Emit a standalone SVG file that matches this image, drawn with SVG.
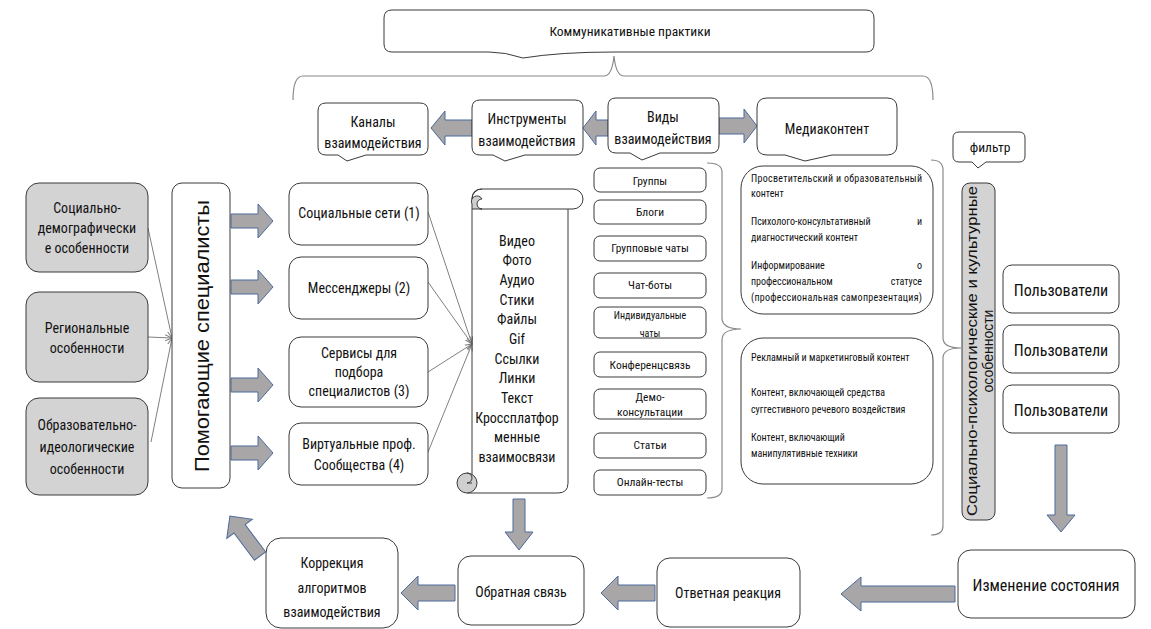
<svg xmlns="http://www.w3.org/2000/svg" width="1151" height="629" viewBox="0 0 1151 629">
<defs>
<style>
text{font-family:"Liberation Sans Narrow","Roboto Condensed",Roboto,sans-serif;fill:#111;dominant-baseline:central;text-anchor:middle}
.box{fill:#fff;stroke:#3a3a3a;stroke-width:1}
.gbox{fill:#d3d3d3;stroke:#3a3a3a;stroke-width:1}
.barr{fill:#a8a6a6;stroke:#4c6a9c;stroke-width:1}
.brace{fill:none;stroke:#8a8a8a;stroke-width:1.2}
.thin{fill:none;stroke:#808080;stroke-width:1}
.f14{font-size:14px}
.f13{font-size:13.5px}
.f11{font-size:11.5px}
.f10{font-size:10px}
.l{text-anchor:start}
.r{text-anchor:end}
</style>
<marker id="ah" markerWidth="8" markerHeight="8" refX="7" refY="4" orient="auto" markerUnits="userSpaceOnUse">
<path d="M0,1 L7,4 L0,7" fill="none" stroke="#808080" stroke-width="1"/>
</marker>
</defs>
<rect width="1151" height="629" fill="#fff"/>

<g id="connectors">
<!-- braces -->
<path class="brace" d="M293,100 Q293,76 303,76 H604 Q612,76 614,56 Q616,76 624,76 H923 Q933,76 933,100"/>
<path class="brace" d="M707,163 Q722,163 722,172 V318 Q722,329 741,329 Q722,329 722,340 V489 Q722,498 707,498"/>
<path class="brace" d="M931,160 Q943,160 943,170 V338 Q943,348 961,348 Q943,348 943,358 V526 Q943,535 931,535"/>
<!-- thin converging arrows left -->
<path class="thin" marker-end="url(#ah)" d="M148,228 L172,338"/>
<path class="thin" marker-end="url(#ah)" d="M148,337 L172,338"/>
<path class="thin" marker-end="url(#ah)" d="M151,442 L172,338"/>
<!-- thin converging arrows to scroll -->
<path class="thin" marker-end="url(#ah)" d="M428,212 L472,344"/>
<path class="thin" marker-end="url(#ah)" d="M428,282 L472,344"/>
<path class="thin" marker-end="url(#ah)" d="M428,372 L472,344"/>
<path class="thin" marker-end="url(#ah)" d="M428,452 L472,344"/>
<!-- block arrows top -->
<path class="barr" d="M472,120 H445 V111 L431,128 L445,145 V136 H472 Z"/>
<path class="barr" d="M608,120 H596 V111 L583,128 L596,145 V136 H608 Z"/>
<path class="barr" d="M719,118 H744 V109 L757,126 L744,143 V134 H719 Z"/>
<!-- block arrows from Помогающие -->
<path class="barr" d="M231,214 H258 V204 L273,221 L258,238 V228 H231 Z"/>
<path class="barr" d="M231,280 H258 V270 L273,287 L258,304 V294 H231 Z"/>
<path class="barr" d="M231,378 H258 V368 L273,385 L258,402 V392 H231 Z"/>
<path class="barr" d="M231,446 H258 V436 L273,453 L258,470 V460 H231 Z"/>
<!-- scroll down arrow -->
<path class="barr" d="M513,499 V532 H505 L519,550 L533,532 H525 V499 Z"/>
<!-- right down arrow -->
<path class="barr" d="M1055,445 V515 H1047 L1061,532 L1075,515 H1067 V445 Z"/>
<!-- bottom arrows -->
<path class="barr" d="M955,586 H861 V577 L841,594 L861,611 V602 H955 Z"/>
<path class="barr" d="M655,585 H618 V576 L601,593 L618,610 V601 H655 Z"/>
<path class="barr" d="M455,585 H418 V576 L401,593 L418,610 V601 H455 Z"/>
<path class="barr" transform="translate(260,556) rotate(-127)" d="M0,-7 H34 V-16 L50,0 L34,16 V7 H0 Z"/>
</g>

<g id="n-kp">
<path class="box" d="M392,10 H866 Q874,10 874,18 V44 Q874,52 866,52 H614 Q560,52 523,58 Q505,52 489,52 H392 Q384,52 384,44 V18 Q384,10 392,10 Z"/>
<text class="f13" x="630" y="31">Коммуникативные практики</text>
</g>

<g id="n-kanaly">
<path class="box" d="M326,103 H420 Q428,103 428,111 V147 Q428,155 420,155 H366 L347,161 L338,155 H326 Q318,155 318,147 V111 Q318,103 326,103 Z"/>
<text class="f14" x="373" y="122">Каналы</text>
<text class="f14" x="373" y="143">взаимодействия</text>
</g>
<g id="n-instr">
<path class="box" d="M480,100 H575 Q583,100 583,108 V147 Q583,155 575,155 H525 L505,161 L493,155 H480 Q472,155 472,147 V108 Q472,100 480,100 Z"/>
<text class="f14" x="527" y="119">Инструменты</text>
<text class="f14" x="527" y="141">взаимодействия</text>
</g>
<g id="n-vidy">
<path class="box" d="M616,98 H711 Q719,98 719,106 V145 Q719,153 711,153 H660 L642,160 L630,153 H616 Q608,153 608,145 V106 Q608,98 616,98 Z"/>
<text class="f14" x="663" y="117">Виды</text>
<text class="f14" x="663" y="139">взаимодействия</text>
</g>
<g id="n-media">
<path class="box" d="M767,98 H887 Q897,98 897,108 V145 Q897,155 887,155 H832 L805,161 L785,155 H767 Q757,155 757,145 V108 Q757,98 767,98 Z"/>
<text class="f14" x="827" y="129">Медиаконтент</text>
</g>

<g id="n-soc-dem">
<rect class="gbox" x="26" y="183" width="122" height="89" rx="13"/>
<text class="f14" x="87" y="208">Социально-</text>
<text class="f14" x="87" y="228">демографически</text>
<text class="f14" x="87" y="248">е особенности</text>
</g>
<g id="n-reg">
<rect class="gbox" x="26" y="292" width="122" height="90" rx="13"/>
<text class="f14" x="87" y="328">Региональные</text>
<text class="f14" x="87" y="348">особенности</text>
</g>
<g id="n-obr">
<rect class="gbox" x="26" y="398" width="122" height="97" rx="13"/>
<text class="f14" x="87" y="425">Образовательно-</text>
<text class="f14" x="87" y="447">идеологические</text>
<text class="f14" x="87" y="469">особенности</text>
</g>

<g id="n-pomog">
<rect class="box" x="172" y="183" width="58" height="305" rx="10"/>
<text x="0" y="0" transform="translate(201,336) rotate(-90)" style="font-family:'Liberation Sans',Arial,sans-serif;font-size:21px" textLength="272" lengthAdjust="spacingAndGlyphs">Помогающие специалисты</text>
</g>

<g id="n-ch1">
<rect class="box" x="289" y="183" width="139" height="62" rx="12"/>
<text class="f14" x="359" y="213">Социальные сети (1)</text>
</g>
<g id="n-ch2">
<rect class="box" x="289" y="257" width="139" height="62" rx="12"/>
<text class="f14" x="359" y="288">Мессенджеры (2)</text>
</g>
<g id="n-ch3">
<rect class="box" x="289" y="337" width="139" height="70" rx="12"/>
<text class="f14" x="359" y="353">Сервисы для</text>
<text class="f14" x="359" y="372">подбора</text>
<text class="f14" x="359" y="391">специалистов (3)</text>
</g>
<g id="n-ch4">
<rect class="box" x="289" y="423" width="139" height="62" rx="12"/>
<text class="f14" x="359" y="444">Виртуальные проф.</text>
<text class="f14" x="359" y="465">Сообщества (4)</text>
</g>

<g id="n-scroll">
<path class="box" d="M472,209 V483 M568,209 V483 Q568,493 558,493 H467"/>
<rect class="box" x="472" y="189" width="111" height="20" rx="10"/>
<path d="M482,199 A5,5 0 1,0 482,209 H472 V204 A5,5 0 0,1 482,199 Z" fill="#cfcfcf" stroke="#3a3a3a"/>
<path d="M472,199 Q472,189 482,189" fill="none" stroke="#3a3a3a"/>
<circle cx="467" cy="483" r="10" fill="#cfcfcf" stroke="#3a3a3a"/>
<path d="M467,473 A5,5 0 0,1 467,483 H472" fill="none" stroke="#3a3a3a"/>
<text class="f14" x="517" y="241">Видео</text>
<text class="f14" x="517" y="260">Фото</text>
<text class="f14" x="517" y="280">Аудио</text>
<text class="f14" x="517" y="300">Стики</text>
<text class="f14" x="517" y="319">Файлы</text>
<text class="f14" x="517" y="339">Gif</text>
<text class="f14" x="517" y="359">Ссылки</text>
<text class="f14" x="517" y="378">Линки</text>
<text class="f14" x="517" y="398">Текст</text>
<text class="f14" x="517" y="418">Кроссплатфор</text>
<text class="f14" x="517" y="437">менные</text>
<text class="f14" x="517" y="457">взаимосвязи</text>
</g>

<g id="n-v1"><rect class="box" x="594" y="168" width="112" height="24" rx="6"/><text class="f11" x="650" y="181">Группы</text></g>
<g id="n-v2"><rect class="box" x="594" y="200" width="112" height="24" rx="6"/><text class="f11" x="650" y="212">Блоги</text></g>
<g id="n-v3"><rect class="box" x="594" y="236" width="112" height="25" rx="6"/><text class="f11" x="650" y="248">Групповые чаты</text></g>
<g id="n-v4"><rect class="box" x="594" y="273" width="112" height="25" rx="6"/><text class="f11" x="650" y="285">Чат-боты</text></g>
<g id="n-v5"><rect class="box" x="594" y="307" width="112" height="31" rx="6"/><text class="f10" x="650" y="315">Индивидуальные</text><text class="f10" x="650" y="333">чаты</text></g>
<g id="n-v6"><rect class="box" x="594" y="352" width="112" height="25" rx="6"/><text class="f11" x="650" y="365">Конференцсвязь</text></g>
<g id="n-v7"><rect class="box" x="594" y="389" width="112" height="30" rx="6"/><text class="f11" x="650" y="397">Демо-</text><text class="f11" x="650" y="412">консультации</text></g>
<g id="n-v8"><rect class="box" x="594" y="433" width="112" height="25" rx="6"/><text class="f11" x="650" y="445">Статьи</text></g>
<g id="n-v9"><rect class="box" x="594" y="470" width="112" height="25" rx="6"/><text class="f11" x="650" y="482">Онлайн-тесты</text></g>

<g id="n-media1">
<rect class="box" x="741" y="166" width="192" height="148" rx="22"/>
<text class="f10 l" x="751" y="178" textLength="171" lengthAdjust="spacing">Просветительский и образовательный</text>
<text class="f10 l" x="751" y="193">контент</text>
<text class="f10 l" x="751" y="221">Психолого-консультативный</text>
<text class="f10 r" x="922" y="221">и</text>
<text class="f10 l" x="751" y="237">диагностический контент</text>
<text class="f10 l" x="751" y="265">Информирование</text>
<text class="f10 r" x="922" y="265">о</text>
<text class="f10 l" x="751" y="281">профессиональном</text>
<text class="f10 r" x="922" y="281">статусе</text>
<text class="f10 l" x="751" y="297" textLength="171" lengthAdjust="spacing">(профессиональная самопрезентация)</text>
</g>
<g id="n-media2">
<rect class="box" x="741" y="338" width="192" height="146" rx="22"/>
<text class="f10 l" x="751" y="357">Рекламный и маркетинговый контент</text>
<text class="f10 l" x="751" y="392">Контент, включающей средства</text>
<text class="f10 l" x="751" y="409">суггестивного речевого воздействия</text>
<text class="f10 l" x="751" y="437">Контент, включающий</text>
<text class="f10 l" x="751" y="453">манипулятивные техники</text>
</g>

<g id="n-filtr">
<path class="box" d="M959,132 H1019 Q1025,132 1025,138 V156 Q1025,162 1019,162 H986 L978,168 L972,162 H959 Q953,162 953,156 V138 Q953,132 959,132 Z"/>
<text class="f13" x="990" y="147">фильтр</text>
</g>

<g id="n-spk">
<rect class="gbox" x="962" y="183" width="33" height="337" rx="8"/>
<text transform="translate(972,351) rotate(-90)" x="0" y="0" style="font-family:'Liberation Sans',Arial,sans-serif;font-size:14px" textLength="330" lengthAdjust="spacingAndGlyphs">Социально-психологические  и культурные</text>
<text transform="translate(988,351) rotate(-90)" x="0" y="0" style="font-family:'Liberation Sans',Arial,sans-serif;font-size:14px">особенности</text>
</g>

<g id="n-u1"><rect class="box" x="1003" y="265" width="116" height="48" rx="9"/><text style="font-size:16px" x="1061" y="290">Пользователи</text></g>
<g id="n-u2"><rect class="box" x="1003" y="325" width="116" height="48" rx="9"/><text style="font-size:16px" x="1061" y="350">Пользователи</text></g>
<g id="n-u3"><rect class="box" x="1003" y="385" width="116" height="48" rx="9"/><text style="font-size:16px" x="1061" y="410">Пользователи</text></g>

<g id="n-izm"><rect class="box" x="958" y="550" width="177" height="68" rx="13"/><text style="font-size:16px" x="1046" y="585">Изменение состояния</text></g>
<g id="n-otv"><rect class="box" x="657" y="558" width="143" height="69" rx="13"/><text class="f14" x="728" y="593">Ответная реакция</text></g>
<g id="n-obr-sv"><rect class="box" x="458" y="556" width="126" height="69" rx="13"/><text class="f14" x="521" y="592">Обратная связь</text></g>
<g id="n-korr"><rect class="box" x="266" y="538" width="132" height="90" rx="15"/>
<text class="f14" x="332" y="563">Коррекция</text>
<text class="f14" x="332" y="588">алгоритмов</text>
<text class="f14" x="332" y="612">взаимодействия</text>
</g>
</svg>
